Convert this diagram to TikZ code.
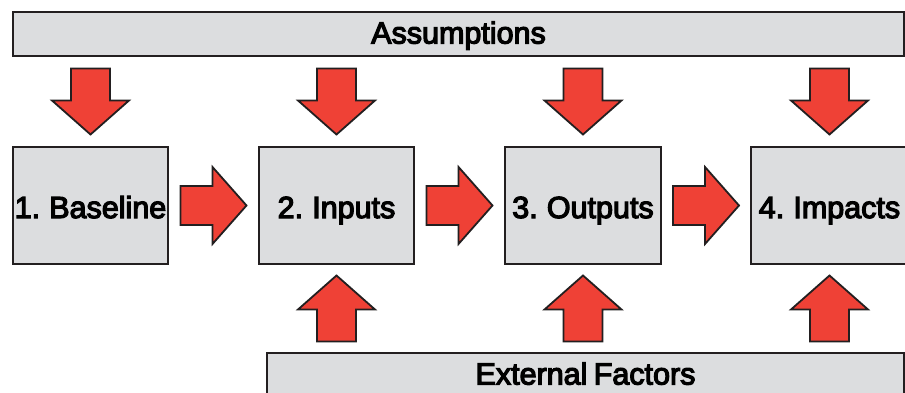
\documentclass[tikz,border=0pt]{standalone}
\usepackage{fontspec}
\newfontfamily\lblfont{Liberation Sans}[FakeBold=4,WordSpace=0.75]
\usetikzlibrary{calc}
\definecolor{boxgray}{RGB}{220,221,223}
\definecolor{arrowred}{RGB}{239,65,54}
\definecolor{outline}{RGB}{35,31,32}
\begin{document}
\begin{tikzpicture}[x=1pt,y=-1pt,
  box/.style={draw=outline,line width=2pt,fill=boxgray,inner sep=0pt,
    text depth=0pt,text height=25pt,
    font=\lblfont\fontsize{30.5}{36}\selectfont},
  bar/.style={box,text height=19pt},
  arrowshape/.style={draw=outline,line width=1.8pt,fill=arrowred,line join=miter},
  blockarrow/.pic={\path[arrowshape] (-33,-19.5) -- (-1,-19.5) -- (-1,-38.5) -- (33,0)
     -- (-1,38.5) -- (-1,19.5) -- (-33,19.5) -- cycle;}]
\useasboundingbox (0,0) rectangle (905,393);
% bars
\node[bar,minimum width=891,minimum height=44] (assump) at (458.5,34) {Assumptions};
\node[bar,minimum width=637,minimum height=44] (extf) at (585.5,375) {External Factors};
% boxes
\node[box,minimum width=155,minimum height=117] (b1) at (90.5,205.5) {1. Baseline};
\node[box,minimum width=155,minimum height=117] (b2) at (336.5,205.5) {2. Inputs};
\node[box,minimum width=156,minimum height=117] (b3) at (583,205.5) {3. Outputs};
\node[box,minimum width=157,minimum height=117] (b4) at (829.5,205.5) {4. Impacts};
% down arrows from assumptions
\foreach \b in {b1,b2,b3,b4}
  \pic[rotate=-90] at ($(\b.north)!0.5!(\b.north |- assump.south)$) {blockarrow};
% right arrows between boxes
\pic at ($(b1.east)!0.5!(b2.west)$) {blockarrow};
\pic at ($(b2.east)!0.5!(b3.west)$) {blockarrow};
\pic at ($(b3.east)!0.5!(b4.west)$) {blockarrow};
% up arrows from external factors
\foreach \b in {b2,b3,b4}
  \pic[rotate=90] at ($(\b.south)!0.5!(\b.south |- extf.north)$) {blockarrow};
\end{tikzpicture}
\end{document}
